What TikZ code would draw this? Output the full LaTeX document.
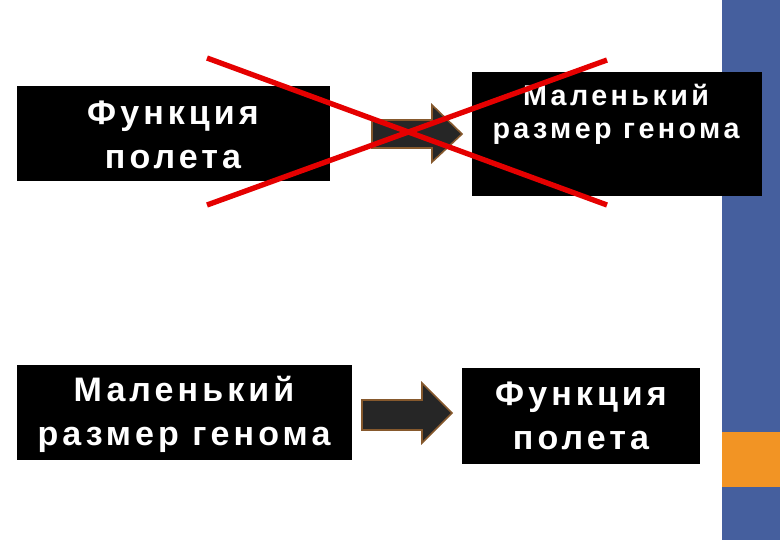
\documentclass[tikz,border=0pt]{standalone}
\usepackage{fontspec}
\setmainfont{Liberation Sans}[LetterSpace=12]
\begin{document}
\begin{tikzpicture}[x=0.75pt,y=-0.75pt,
  bbox/.style={fill=black,draw=none},
  txt/.style={text=white,font=\fontsize{25.5}{33}\selectfont\bfseries,align=center,inner sep=0},
  stxt/.style={text=white,font=\fontsize{21.5}{25}\selectfont\bfseries,align=center,inner sep=0},
  barrow/.style={fill=black!85,draw=brown!70!black,line width=1.2pt},
  xline/.style={draw=red!90!black,line width=4pt}]
\useasboundingbox (0,0) rectangle (780,540);
\fill[white] (0,0) rectangle (780,540);
\fill[fill={rgb,255:red,69;green,95;blue,158}] (722,0) rectangle (780,540);
\fill[fill={rgb,255:red,242;green,148;blue,36}] (722,432) rectangle (780,487);
% boxes
\fill[bbox] (17,86) rectangle (330,181);
\node[txt] (a) at (173,135) {Функция\\полета};
\fill[bbox] (472,72) rectangle (762,196);
\node[stxt] (b) at (616,114) {Маленький\\размер генома};
\fill[white] (472,50) rectangle (722,72);
\fill[bbox] (17,365) rectangle (352,460);
\node[txt] (c) at (184,414) {Маленький\\размер генома};
\fill[bbox] (462,368) rectangle (700,464);
\node[txt] (d) at (581,416) {Функция\\полета};
% arrows
\draw[barrow] (372,120) -- (432,120) -- (432,105) -- (462,134) -- (432,162) -- (432,148) -- (372,148) -- cycle;
\draw[barrow] (362,400) -- (422,400) -- (422,383) -- (452,413) -- (422,443) -- (422,430) -- (362,430) -- cycle;
% X
\coordinate (x1) at (207,58); \coordinate (x2) at (607,205);
\coordinate (x3) at (207,205); \coordinate (x4) at (607,60);
\draw[xline] (x1) -- (x2);
\draw[xline] (x3) -- (x4);
\end{tikzpicture}
\end{document}
